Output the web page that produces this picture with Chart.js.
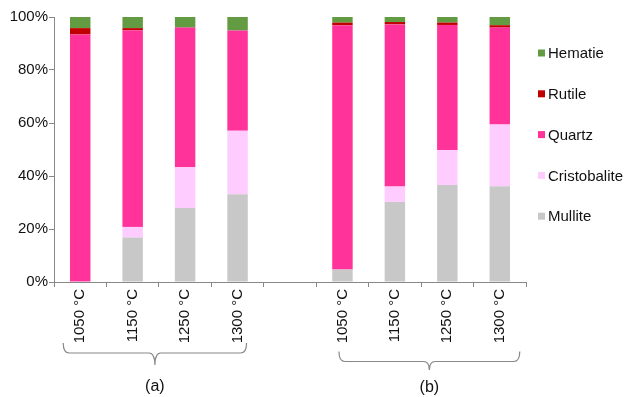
<!DOCTYPE html>
<html>
  <head>
    <title>Phase composition</title>
    <script src="https://cdn.jsdelivr.net/npm/chart.js"></script>
    <style>
      body { margin: 0; background: #fff; }
      #wrap { width: 628px; height: 397px; }
    </style>
  </head>
  <body>
    <div id="wrap"><canvas id="phaseChart" width="628" height="397"></canvas></div>

    <script>
      const temps = ["1050 °C", "1150 °C", "1250 °C", "1300 °C", "", "1050 °C", "1150 °C", "1250 °C", "1300 °C"];
      const mullite = [0, 16.8, 27.9, 33.1, null, 4.7, 30.2, 36.6, 36.1];
      const cristobalite = [0, 4.0, 15.4, 24.0, null, 0, 5.8, 13.2, 23.3];
      const quartz = [93.4, 74.2, 52.7, 37.8, null, 92.2, 61.2, 47.2, 36.6];
      const rutile = [2.4, 0.8, 0, 0, null, 1.0, 0.9, 0.9, 0.9];
      const hematie = [4.2, 4.2, 4.0, 5.1, null, 2.1, 1.9, 2.1, 3.1];
      const yTicks = [0, 20, 40, 60, 80, 100];
      const groupNames = ["(a)", "(b)"];
      const groupFirst = [0, 5];
      const groupLast = [3, 8];

      const FONT = '"Liberation Sans", Arial, Helvetica, sans-serif';

      const series = [
        { label: "Mullite", data: mullite, color: "#c8c8c8" },
        { label: "Cristobalite", data: cristobalite, color: "#ffccff" },
        { label: "Quartz", data: quartz, color: "#ff3399" },
        { label: "Rutile", data: rutile, color: "#c00000" },
        { label: "Hematie", data: hematie, color: "#629b41" },
      ];

      // legend on the right, top item = last series
      const sideLegend = {
        id: "sideLegend",
        afterDraw(chart) {
          const ctx = chart.ctx;
          ctx.save();
          ctx.font = "15px " + FONT;
          ctx.textBaseline = "middle";
          const items = series.slice().reverse();
          items.forEach((s, i) => {
            const y = 53 + i * 40.8;
            ctx.fillStyle = s.color;
            ctx.fillRect(538, y - 3.5, 7, 7);
            ctx.fillStyle = "#111";
            ctx.fillText(s.label, 548, y + 1);
          });
          ctx.restore();
        },
      };

      // curly braces under the two groups (hand placed like the original)
      const braceStyle = [
        { left: -17, right: 9, top: 343, mid: 353, tip: 365, text: 386.5 },
        { left: -3.5, right: 20, top: 351.5, mid: 361.5, tip: 370, text: 388 },
      ];
      const braces = {
        id: "braces",
        afterDraw(chart) {
          const ctx = chart.ctx;
          const x = chart.scales.x;
          ctx.save();
          ctx.strokeStyle = "#888";
          ctx.lineWidth = 1.2;
          groupNames.forEach((name, i) => {
            const b = braceStyle[i];
            const x0 = x.getPixelForValue(groupFirst[i]) + b.left;
            const x1 = x.getPixelForValue(groupLast[i]) + b.right;
            const xm = (x0 + x1) / 2;
            const r = 6;
            ctx.beginPath();
            ctx.moveTo(x0, b.top);
            ctx.quadraticCurveTo(x0, b.mid, x0 + r, b.mid);
            ctx.lineTo(xm - r, b.mid);
            ctx.quadraticCurveTo(xm, b.mid, xm, b.tip);
            ctx.quadraticCurveTo(xm, b.mid, xm + r, b.mid);
            ctx.lineTo(x1 - r, b.mid);
            ctx.quadraticCurveTo(x1, b.mid, x1, b.top);
            ctx.stroke();
            ctx.fillStyle = "#111";
            ctx.font = "16px " + FONT;
            ctx.textAlign = "center";
            ctx.textBaseline = "middle";
            ctx.fillText(name, xm, b.text);
          });
          ctx.restore();
        },
      };

      const ctx = document.getElementById("phaseChart").getContext("2d");
      new Chart(ctx, {
        type: "bar",
        data: {
          labels: temps,
          datasets: series.map((s) => ({
            label: s.label,
            data: s.data,
            backgroundColor: s.color,
            borderWidth: 0,
            barPercentage: 0.39,
            categoryPercentage: 1,
          })),
        },
        options: {
          responsive: false,
          animation: false,
          layout: { padding: { top: 17, right: 102, left: 0, bottom: 0 } },
          plugins: {
            legend: { display: false },
            tooltip: { enabled: false },
          },
          scales: {
            x: {
              stacked: true,
              afterFit(scale) {
                scale.height = 115;
              },
              grid: {
                offset: true,
                drawOnChartArea: false,
                tickLength: 5,
                color: "#888",
              },
              border: { color: "#888" },
              ticks: {
                minRotation: 90,
                maxRotation: 90,
                autoSkip: false,
                padding: 2,
                color: "#111",
                font: { family: FONT, size: 15 },
              },
            },
            y: {
              stacked: true,
              min: 0,
              max: 100,
              afterFit(scale) {
                scale.width = 54;
              },
              afterBuildTicks(scale) {
                scale.ticks = yTicks.map((v) => ({ value: v }));
              },
              grid: {
                drawOnChartArea: false,
                tickLength: 5,
                color: "#888",
              },
              border: { color: "#888" },
              ticks: {
                padding: 1,
                color: "#111",
                font: { family: FONT, size: 15 },
                callback: (v) => v + "%",
              },
            },
          },
        },
        plugins: [sideLegend, braces],
      });
    </script>
  </body>
</html>
